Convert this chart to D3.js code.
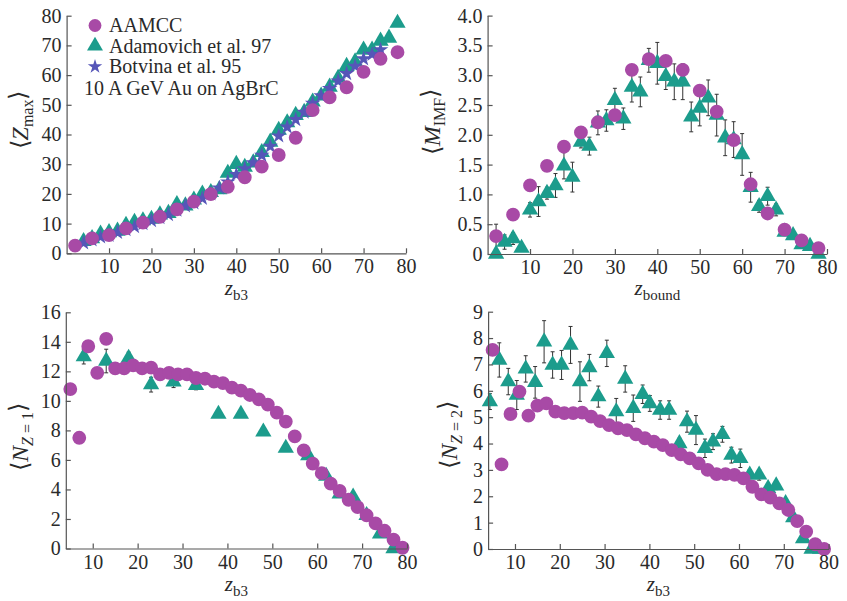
<!DOCTYPE html>
<html>
<head>
<meta charset="utf-8">
<script src="https://cdn.jsdelivr.net/npm/d3@7"></script>
<style>
	body { margin: 0; background: #fff; }
</style>
</head>
<body>
<div id="chart"></div>
<script>
// ---- Data ----

// Panel a: <Z_max> vs z_b3
const zmaxAamccZ = [2, 6, 10, 14, 18, 22, 26, 30, 34, 38, 42, 46, 50, 54, 58, 62, 66, 70, 74, 78];
const zmaxAamcc = [2.6, 5.0, 6.1, 8.4, 10.3, 12.3, 14.8, 17.4, 19.9, 22.4, 25.6, 29.2, 33.1, 38.9, 48.2, 52.5, 55.9, 61.1, 65.5, 67.7];
const zmaxAdamZ = [4, 6, 8, 10, 12, 14, 16, 18, 20, 22, 24, 26, 28, 30, 32, 34, 36, 38, 40, 42, 44, 46, 48, 50, 52, 54, 56, 58, 60, 62, 64, 66, 68, 70, 72, 74, 76, 78];
const zmaxAdam = [4, 5, 6.5, 7, 7.5, 9.5, 10.5, 11, 11.5, 13, 13.5, 16.5, 16, 18, 20, 20.5, 21.5, 27, 30, 29, 30.5, 34, 37.5, 41.5, 44, 46.5, 47.5, 51, 53, 56, 59, 63, 64.5, 68.5, 68.5, 71.5, 72.5, 77.5];
const zmaxBotvZ = [4, 6, 8, 10, 12, 14, 16, 18, 20, 22, 24, 26, 28, 30, 32, 34, 36, 38, 40, 42, 44, 46, 48, 50, 52, 54, 56, 58, 60, 62, 64, 66, 68, 70, 72, 74];
const zmaxBotv = [3.5, 4.5, 5.5, 6, 7, 8, 9, 10, 11, 12, 13, 14.5, 16, 17, 18.5, 20, 22, 24, 26.5, 28.5, 30.5, 33, 36, 39.5, 42.5, 45, 47.5, 50.5, 53, 55.5, 58, 60.5, 63, 65.5, 67, 68.5];

// Panel b: <M_IMF> vs z_bound
const mimfAamccZ = [2, 6, 10, 14, 18, 22, 26, 30, 34, 38, 42, 46, 50, 54, 58, 62, 66, 70, 74, 78];
const mimfAamcc = [0.3, 0.66, 1.15, 1.48, 1.80, 2.04, 2.21, 2.33, 3.09, 3.27, 3.24, 3.09, 2.74, 2.39, 1.91, 1.17, 0.68, 0.41, 0.23, 0.10];
const mimfAdamZ = [2, 4, 6, 8, 10, 12, 14, 16, 18, 20, 22, 24, 26, 28, 30, 32, 34, 36, 38, 40, 42, 44, 46, 48, 50, 52, 54, 56, 58, 60, 62, 64, 66, 68, 70, 72, 74, 76, 78];
const mimfAdam = [0.0, 0.20, 0.26, 0.10, 0.74, 0.88, 1.02, 1.15, 1.48, 1.29, 1.88, 1.81, 2.20, 2.24, 2.58, 2.27, 2.80, 2.72, 3.25, 3.20, 2.98, 2.89, 2.89, 2.30, 2.45, 2.62, 2.33, 1.95, 1.92, 1.67, 1.12, 0.80, 0.97, 0.74, 0.37, 0.31, 0.16, 0.13, 0.0];
const mimfAdamErr = [0.5, 0.12, 0.1, 0.05, 0.12, 0.25, 0.1, 0.2, 0.22, 0.25, 0.1, 0.15, 0.2, 0.18, 0.2, 0.18, 0.25, 0.25, 0.2, 0.35, 0.22, 0.3, 0.3, 0.25, 0.3, 0.3, 0.35, 0.3, 0.3, 0.35, 0.25, 0.1, 0.15, 0.1, 0.05, 0.05, 0.05, 0.05, 0.05];

// Panel c: <N_Z=1> vs z_b3
const nz1AamccZ = [5, 7, 9, 11, 13, 15, 17, 19, 21, 23, 25, 27, 29, 31, 33, 35, 37, 39, 41, 43, 45, 47, 49, 51, 53, 55, 57, 59, 61, 63, 65, 67, 69, 71, 73, 75, 77, 79];
const nz1Aamcc = [10.8, 7.5, 13.7, 11.9, 14.2, 12.2, 12.2, 12.4, 12.2, 12.25, 11.8, 11.9, 11.8, 11.8, 11.55, 11.5, 11.3, 11.2, 10.9, 10.7, 10.4, 10.1, 9.75, 9.2, 8.6, 7.6, 6.65, 5.75, 5.1, 4.4, 3.9, 3.3, 2.8, 2.25, 1.7, 1.2, 0.6, 0.05];
const nz1AdamZ = [8, 13, 18, 23, 28, 33, 38, 43, 48, 53, 58, 62, 65, 68, 71, 74, 77];
const nz1Adam = [13.0, 12.7, 12.9, 11.1, 11.3, 11.05, 9.1, 9.1, 7.9, 6.8, 6.3, 4.9, 3.7, 3.5, 2.25, 1.0, 0.0];
const nz1AdamErr = [0.5, 0.8, 0.4, 0.5, 0.4, 0.3, 0.2, 0.2, 0.2, 0.2, 0.2, 0.2, 0.2, 0.2, 0.2, 0.2, 0.1];

// Panel d: <N_Z=2> vs z_b3
const nz2AamccZ = [5, 7, 9, 11, 13, 15, 17, 19, 21, 23, 25, 27, 29, 31, 33, 35, 37, 39, 41, 43, 45, 47, 49, 51, 53, 55, 57, 59, 61, 63, 65, 67, 69, 71, 73, 75, 77, 79];
const nz2Aamcc = [7.55, 3.21, 5.12, 5.97, 5.06, 5.44, 5.52, 5.21, 5.15, 5.15, 5.17, 5.02, 4.85, 4.70, 4.58, 4.51, 4.35, 4.2, 4.07, 3.94, 3.75, 3.59, 3.44, 3.25, 3.0, 2.84, 2.84, 2.81, 2.68, 2.36, 2.07, 1.95, 1.73, 1.48, 1.06, 0.66, 0.18, 0.0];
const nz2AdamZ = [4.4, 6.5, 8.5, 10.4, 12.4, 14.5, 16.5, 18.4, 20.4, 22.4, 24.5, 26.6, 28.6, 30.5, 32.6, 34.6, 36.4, 38.5, 40.1, 42.4, 44.4, 46.7, 48.4, 50.4, 52.4, 54.2, 56.3, 58.3, 60.3, 62.4, 64.5, 66.5, 68.3, 70.4, 72.1, 74.3, 76.2, 78.1];
const nz2Adam = [5.59, 7.17, 6.35, 5.84, 6.83, 6.32, 7.86, 6.98, 6.98, 7.74, 6.35, 6.88, 5.78, 7.42, 5.21, 6.45, 5.34, 5.87, 5.52, 5.27, 5.27, 4.0, 4.83, 4.51, 3.82, 4.07, 4.35, 3.56, 3.44, 2.81, 2.81, 2.3, 2.4, 1.73, 1.19, 0.4, 0.0, 0.0];
const nz2AdamErr = [0.3, 0.65, 0.5, 0.55, 0.5, 0.6, 0.8, 0.5, 0.55, 0.7, 0.75, 0.5, 0.4, 0.5, 0.5, 0.5, 0.5, 0.35, 0.3, 0.35, 0.35, 0.2, 0.4, 0.55, 0.35, 0.3, 0.3, 0.3, 0.35, 0.2, 0.2, 0.15, 0.15, 0.15, 0.1, 0.1, 0.05, 0.05];

// Ticks
const xTicks = [10, 20, 30, 40, 50, 60, 70, 80];
const zmaxTicks = [0, 10, 20, 30, 40, 50, 60, 70, 80];
const mimfTicks = [0, 0.5, 1.0, 1.5, 2.0, 2.5, 3.0, 3.5, 4.0];
const nz1Ticks = [0, 2, 4, 6, 8, 10, 12, 14, 16];
const nz2Ticks = [0, 1, 2, 3, 4, 5, 6, 7, 8, 9];

const legendLabels = ["AAMCC", "Adamovich et al. 97", "Botvina et al. 95"];
const legendNote = "10 A GeV Au on AgBrC";

const colAamcc = "#a84aa6",
	colAdam = "#1c9c8c",
	colBotv = "#5656b8";

const FONT = "'Liberation Serif', 'Times New Roman', Times, serif";
const TXT = "#2a2a2a";

const zip = (a, b) => a.map((d, i) => [d, b[i]]);

const svg = d3.select("#chart")
	.append("svg")
		.attr("width", 847)
		.attr("height", 601)
		.style("font-family", FONT);


class Panel {

	constructor(opts) {
		this.opts = opts;
		this.x = d3.scaleLinear().domain(opts.xDomain).range(opts.xRange);
		this.y = d3.scaleLinear().domain(opts.yDomain).range(opts.yRange);
		this.g = svg.append("g");
		this.marks = this.g.append("g");
	}

	drawAxes() {
		let xAxis = d3.axisBottom(this.x)
			.tickValues(xTicks)
			.tickSizeInner(-5)
			.tickSizeOuter(0)
			.tickPadding(6);
		let yAxis = d3.axisLeft(this.y)
			.tickValues(this.opts.yTicks)
			.tickSizeInner(-5)
			.tickSizeOuter(0)
			.tickPadding(5)
			.tickFormat(this.opts.yFormat || (d => d));

		let gx = this.g.append("g")
			.attr("transform", "translate(0," + this.opts.yRange[0] + ")")
			.call(xAxis);
		let gy = this.g.append("g")
			.attr("transform", "translate(" + this.opts.xRange[0] + ",0)")
			.call(yAxis);

		for (let ax of [gx, gy]) {
			ax.attr("font-family", null).attr("font-size", null);
			ax.selectAll("path, line").attr("stroke", "#555").attr("stroke-width", 1.2);
			ax.selectAll("text")
				.style("font-family", FONT)
				.style("font-size", "20px")
				.attr("fill", TXT);
		}
	}

	drawXLabel(sub) {
		let t = this.g.append("text")
			.attr("x", (this.opts.xRange[0] + this.opts.xRange[1]) / 2)
			.attr("y", this.opts.xLabelY)
			.attr("fill", TXT)
			.style("font-family", FONT)
			.style("text-anchor", "middle")
			.style("font-size", "21px");
		t.append("tspan").style("font-style", "italic").text("z");
		t.append("tspan").attr("dy", "0.3em").style("font-size", "15px").text(sub);
	}

	drawYLabel(parts) {
		// parts: [[text, italic, sub], ...]
		let t = this.g.append("text")
			.attr("transform", "translate(" + this.opts.yLabelX + "," + this.opts.yLabelY + ") rotate(-90)")
			.attr("fill", TXT)
			.style("font-family", FONT)
			.style("text-anchor", "middle")
			.style("font-size", "24px");
		let shifted = false;
		for (let [txt, italic, sub] of parts) {
			let s = t.append("tspan").text(txt);
			if (italic) s.style("font-style", "italic");
			if (sub && !shifted) { s.attr("dy", "0.3em"); shifted = true; }
			if (!sub && shifted) { s.attr("dy", "-0.3em"); shifted = false; }
			if (sub) s.style("font-size", "16px");
		}
	}

	drawErrorBars(xs, ys, errs) {
		let data = zip(xs, ys).map((d, i) => [d[0], d[1], errs[i]]);
		let bars = this.marks.append("g")
			.attr("stroke", "#333")
			.attr("stroke-width", 1);
		bars.selectAll("path")
			.data(data)
			.join("path")
			.attr("fill", "none")
			.attr("d", d => {
				let cx = this.x(d[0]),
					y0 = this.y(Math.max(0, d[1] - d[2])),
					y1 = this.y(d[1] + d[2]);
				return "M" + cx + "," + y0 + "V" + y1 +
					"M" + (cx - 2) + "," + y1 + "H" + (cx + 2) +
					"M" + (cx - 2) + "," + y0 + "H" + (cx + 2);
			});
	}

	plotSymbols(xs, ys, type, size, color) {
		this.marks.append("g")
			.selectAll("path")
			.data(zip(xs, ys))
			.join("path")
			.attr("transform", d => "translate(" + this.x(d[0]) + "," + this.y(d[1]) + ")")
			.attr("d", d3.symbol().type(type).size(size))
			.attr("fill", color);
	}
}

const circleSize = 150, triSize = 115, starSize = 75;

// ---- Panel a ----
let pa = new Panel({
	xDomain: [0, 80], xRange: [66.6, 406],
	yDomain: [0, 80], yRange: [253.3, 15.7],
	yTicks: zmaxTicks, xLabelY: 295, yLabelX: 28, yLabelY: 120
});
pa.plotSymbols(zmaxAdamZ, zmaxAdam, d3.symbolTriangle, triSize, colAdam);
pa.plotSymbols(zmaxBotvZ, zmaxBotv, d3.symbolStar, starSize, colBotv);
pa.plotSymbols(zmaxAamccZ, zmaxAamcc, d3.symbolCircle, circleSize, colAamcc);
pa.drawAxes();
pa.drawXLabel("b3");
pa.drawYLabel([["\u27E8", false, false], ["Z", true, false], ["max", false, true], ["\u27E9", false, false]]);

// legend
const legendTypes = [d3.symbolCircle, d3.symbolTriangle, d3.symbolStar];
const legendSizes = [130, 110, 65];
const legendCols = [colAamcc, colAdam, colBotv];
let legend = svg.append("g")
	.style("font-family", FONT)
	.style("font-size", "20px");
legendLabels.forEach((lab, i) => {
	let cy = 25.5 + i * 20.5;
	legend.append("path")
		.attr("transform", "translate(95," + cy + ")")
		.attr("d", d3.symbol().type(legendTypes[i]).size(legendSizes[i]))
		.attr("fill", legendCols[i]);
	legend.append("text")
		.attr("x", 109)
		.attr("y", cy + 6.5)
		.attr("fill", TXT)
		.text(lab);
});
legend.append("text")
	.attr("x", 84)
	.attr("y", 95)
	.attr("fill", TXT)
	.text(legendNote);

// ---- Panel b ----
let pb = new Panel({
	xDomain: [0, 80], xRange: [487.6, 827],
	yDomain: [0, 4], yRange: [254, 15.6],
	yTicks: mimfTicks, yFormat: d => d === 0 ? "0" : d3.format(".1f")(d),
	xLabelY: 295, yLabelX: 440, yLabelY: 122
});
pb.drawErrorBars(mimfAdamZ, mimfAdam, mimfAdamErr);
pb.plotSymbols(mimfAdamZ, mimfAdam, d3.symbolTriangle, triSize, colAdam);
pb.plotSymbols(mimfAamccZ, mimfAamcc, d3.symbolCircle, circleSize, colAamcc);
pb.drawAxes();
pb.drawXLabel("bound");
pb.drawYLabel([["\u27E8", false, false], ["M", true, false], ["IMF", false, true], ["\u27E9", false, false]]);

// ---- Panel c ----
let pc = new Panel({
	xDomain: [4, 80], xRange: [65.8, 407],
	yDomain: [0, 16], yRange: [548.5, 312.3],
	yTicks: nz1Ticks, xLabelY: 591, yLabelX: 28, yLabelY: 437
});
pc.drawErrorBars(nz1AdamZ, nz1Adam, nz1AdamErr);
pc.plotSymbols(nz1AdamZ, nz1Adam, d3.symbolTriangle, triSize, colAdam);
pc.plotSymbols(nz1AamccZ, nz1Aamcc, d3.symbolCircle, circleSize, colAamcc);
pc.drawAxes();
pc.drawXLabel("b3");
pc.drawYLabel([["\u27E8", false, false], ["N", true, false], ["Z", true, true], [" = 1", false, true], ["\u27E9", false, false]]);

// ---- Panel d ----
let pd = new Panel({
	xDomain: [4, 80], xRange: [488.1, 828.6],
	yDomain: [0, 9], yRange: [549, 311.7],
	yTicks: nz2Ticks, xLabelY: 591, yLabelX: 457, yLabelY: 435
});
pd.drawErrorBars(nz2AdamZ, nz2Adam, nz2AdamErr);
pd.plotSymbols(nz2AdamZ, nz2Adam, d3.symbolTriangle, triSize, colAdam);
pd.plotSymbols(nz2AamccZ, nz2Aamcc, d3.symbolCircle, circleSize, colAamcc);
pd.drawAxes();
pd.drawXLabel("b3");
pd.drawYLabel([["\u27E8", false, false], ["N", true, false], ["Z", true, true], [" = 2", false, true], ["\u27E9", false, false]]);
</script>
</body>
</html>
